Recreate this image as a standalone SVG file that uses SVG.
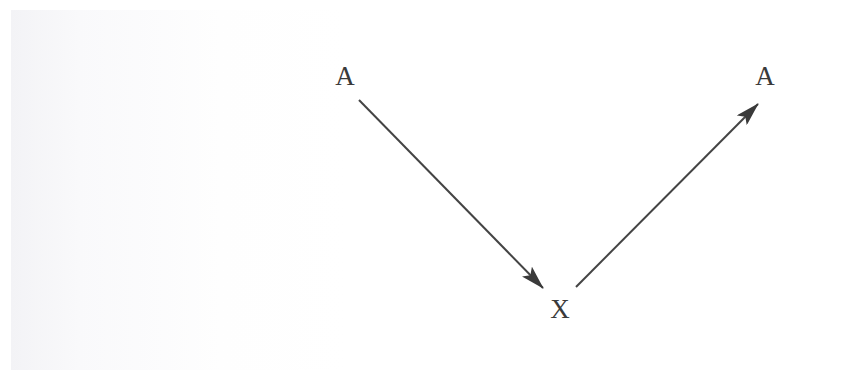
<svg xmlns="http://www.w3.org/2000/svg" width="851" height="374" viewBox="0 0 851 374">
<defs>
<linearGradient id="bg" x1="0" y1="0" x2="1" y2="0">
<stop offset="0" stop-color="#f3f3f6"/>
<stop offset="0.08" stop-color="#f9f9fb"/>
<stop offset="0.25" stop-color="#fefefe"/>
<stop offset="0.4" stop-color="#ffffff"/>
</linearGradient>
<marker id="ah" viewBox="0 0 24 14" refX="23" refY="7" markerWidth="24" markerHeight="14" markerUnits="userSpaceOnUse" orient="auto">
<path d="M0,0 L24,7 L0,14 L5,7 Z" fill="#3a3a3a"/>
</marker>
<style>
.lbl{font-family:"Liberation Serif","DejaVu Serif",serif;font-size:27px;fill:#3a3a3a;text-anchor:middle}
.edge{stroke:#444;stroke-width:2;fill:none}
</style>
</defs>
<rect width="851" height="374" fill="#fff"/>
<rect x="11" y="10" width="840" height="360" fill="url(#bg)"/>
<g id="node-a1"><text class="lbl" x="345" y="85">A</text></g>
<g id="node-a2"><text class="lbl" x="765" y="85">A</text></g>
<g id="node-x"><text class="lbl" x="560" y="318">X</text></g>
<g id="connectors">
<line class="edge" x1="359" y1="100" x2="543" y2="288" marker-end="url(#ah)"/>
<line class="edge" x1="576" y1="287" x2="758" y2="104" marker-end="url(#ah)"/>
</g>
</svg>
